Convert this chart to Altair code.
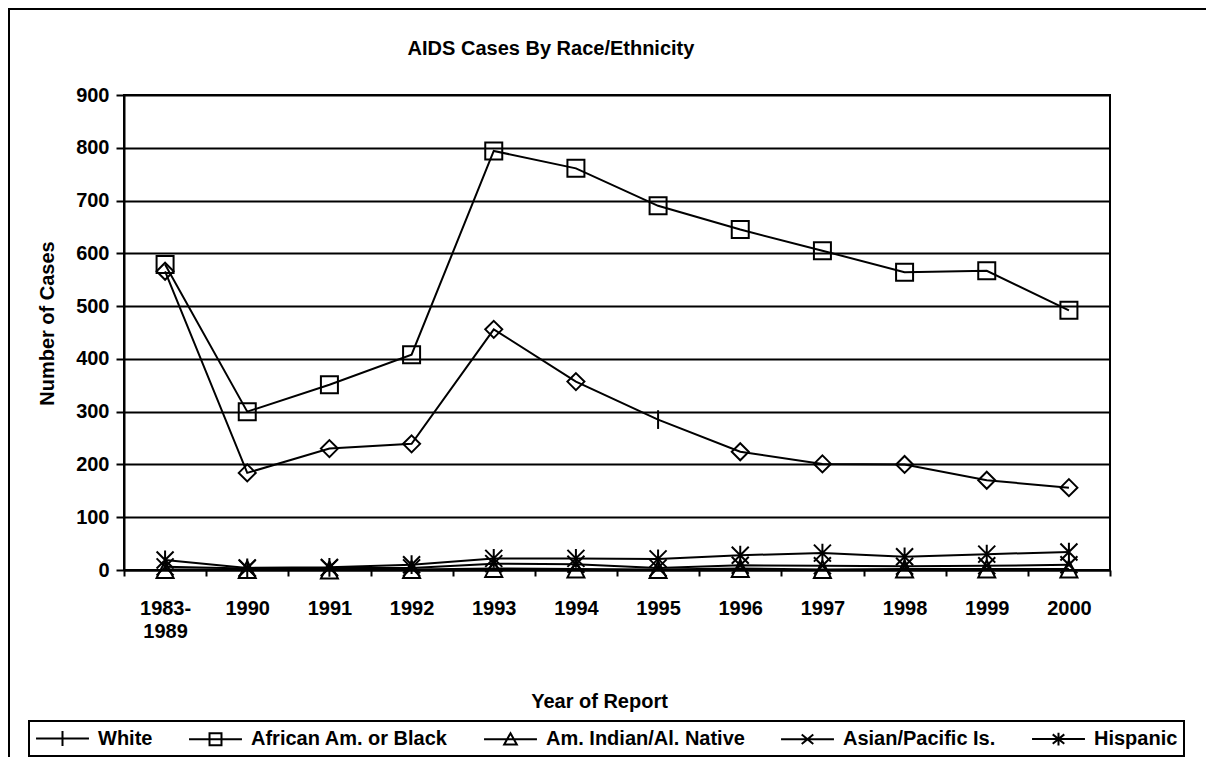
import altair as alt
import pandas as pd

categories = ["1983-1989", "1990", "1991", "1992", "1993", "1994", "1995",
              "1996", "1997", "1998", "1999", "2000"]
series_names = ["White", "African Am. or Black", "Am. Indian/Al. Native",
                "Asian/Pacific Is.", "Hispanic"]

white = [566, 184, 230, 239, 456, 357, 285, 224, 201, 200, 170, 156]
african = [579, 300, 351, 408, 794, 761, 690, 645, 605, 564, 567, 492]
am_indian = [1, 1, 0, 1, 3, 2, 1, 3, 1, 2, 2, 2]
asian = [6, 3, 4, 4, 12, 11, 4, 9, 8, 7, 8, 10]
hispanic = [19, 4, 5, 10, 22, 22, 21, 28, 32, 25, 30, 34]

white_markers = ["diamond", "diamond", "diamond", "diamond", "diamond", "diamond",
                 "tick", "diamond", "diamond", "diamond", "diamond", "diamond"]
series_marker = {"African Am. or Black": "square", "Am. Indian/Al. Native": "triangle",
                 "Asian/Pacific Is.": "cross", "Hispanic": "asterisk"}

values = {"White": white, "African Am. or Black": african,
          "Am. Indian/Al. Native": am_indian, "Asian/Pacific Is.": asian,
          "Hispanic": hispanic}

rows = []
for s in series_names:
    for i, c in enumerate(categories):
        mk = white_markers[i] if s == "White" else series_marker[s]
        rows.append({"year": c, "series": s, "cases": values[s][i], "marker": mk})
df = pd.DataFrame(rows)

marker_keys = ["diamond", "tick", "square", "triangle", "cross", "asterisk"]
marker_paths = [
    "M0,-1L1,0L0,1L-1,0Z",
    "M0,-1.1V1.1",
    "M-1,-1H1V1H-1Z",
    "M0,-1L1,1H-1Z",
    "M-1,-1L1,1M-1,1L1,-1",
    "M-1,-1L1,1M-1,1L1,-1M0,-1.1V1.1",
]

ln = "M-2.52,0H2.52"
legend_paths = [
    ln + "M0,-0.71V0.71",
    ln + "M-0.57,-0.57H0.57V0.57H-0.57Z",
    ln + "M0,-0.57L0.6,0.5H-0.6Z",
    ln + "M-0.55,-0.45L0.55,0.45M-0.55,0.45L0.55,-0.45",
    ln + "M-0.55,-0.45L0.55,0.45M-0.55,0.45L0.55,-0.45M0,-0.6V0.6",
]

FONT = "Liberation Sans"
TITLE = "AIDS Cases By Race/Ethnicity"

x_enc = alt.X(
    "year:N", sort=categories, title="Year of Report",
    scale=alt.Scale(type="band", domain=categories, paddingInner=0, paddingOuter=0),
    axis=alt.Axis(
        grid=False, tickBand="extent", tickSize=6, tickColor="black", tickWidth=2,
        domainColor="black", domainWidth=2, labelAngle=0,
        labelFont=FONT, labelFontSize=20, labelFontWeight="bold", labelColor="black",
        labelPadding=22, labelLineHeight=23,
        labelExpr="datum.value == '1983-1989' ? ['1983-', '1989'] : datum.label",
        titleFont=FONT, titleFontSize=20, titleFontWeight="bold", titleColor="black",
        titleX=475, titleY=137, titleBaseline="alphabetic", titleAlign="center",
    ),
)
y_enc = alt.Y(
    "cases:Q", title="Number of Cases",
    scale=alt.Scale(domain=[0, 900], nice=False),
    axis=alt.Axis(
        values=[0, 100, 200, 300, 400, 500, 600, 700, 800, 900],
        grid=True, gridColor="black", gridWidth=2, gridOpacity=1,
        domainColor="black", domainWidth=2, tickColor="black", tickWidth=2, tickSize=8,
        labelFont=FONT, labelFontSize=20, labelFontWeight="bold", labelColor="black",
        labelPadding=7,
        titleFont=FONT, titleFontSize=20, titleFontWeight="bold", titleColor="black",
        titleX=-71, titleY=228, titleBaseline="alphabetic", titleAlign="center",
    ),
)

base = alt.Chart(df)
deco = alt.Chart(alt.Data(values=[{"k": 1}]))

frame = deco.mark_rect(
    fillOpacity=0, stroke="black", strokeWidth=2
).encode(x=alt.value(-115), x2=alt.value(1110), y=alt.value(-86), y2=alt.value(700))

title = deco.mark_text(
    font=FONT, fontSize=20, fontWeight="bold", color="black",
    align="center", baseline="alphabetic",
).encode(x=alt.value(427), y=alt.value(-40), text=alt.value(TITLE))

lines = base.mark_line(color="black", strokeWidth=2).encode(
    x=x_enc, y=y_enc, detail="series:N"
)

points = base.mark_point(filled=False, color="black", strokeWidth=2, size=289, opacity=1).encode(
    x=x_enc, y=y_enc,
    shape=alt.Shape("marker:N", scale=alt.Scale(domain=marker_keys, range=marker_paths),
                    legend=None),
)

legend_layer = base.mark_point(filled=False, color="black", strokeWidth=2, opacity=0).encode(
    x=x_enc, y=y_enc,
    shape=alt.Shape(
        "series:N", title=None,
        scale=alt.Scale(domain=series_names, range=legend_paths),
        legend=alt.Legend(
            orient="none", legendX=-95, legendY=626, direction="horizontal",
            symbolSize=441, symbolOffset=16, labelOffset=24, columnPadding=32,
            padding=6, strokeColor="black", symbolStrokeColor="black",
            symbolStrokeWidth=2, symbolOpacity=1,
            labelFont=FONT, labelFontSize=20, labelFontWeight="bold",
            labelColor="black", labelLimit=400,
        ),
    ),
)

chart = alt.layer(frame, title, lines, points, legend_layer).resolve_scale(
    shape="independent"
).properties(
    width=986, height=475,
    autosize=alt.AutoSizeParams(type="none"),
    padding={"left": 116, "top": 87, "right": 96, "bottom": 187},
).configure(font=FONT).configure_view(stroke="black", strokeWidth=2).configure_legend(
    strokeWidth=2
)

chart.save("out.html", embed_options={"renderer": "svg", "actions": False})
